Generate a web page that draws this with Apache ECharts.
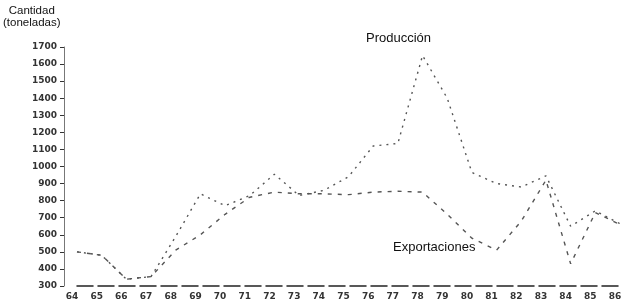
<!DOCTYPE html>
<html>
<head>
<meta charset="utf-8">
<script src="https://cdn.jsdelivr.net/npm/echarts@6/dist/echarts.min.js"></script>
<style>
html,body{margin:0;padding:0;background:#fff;}
#chart{width:627px;height:304px;}
</style>
</head>
<body>
<div id="chart"></div>
<script>
var years = ['64','65','66','67','68','69','70','71','72','73','74','75','76','77','78','79','80','81','82','83','84','85','86'];
var produccion = [500,480,340,355,590,840,770,830,955,830,860,940,1120,1135,1650,1400,965,900,880,945,650,740,665];
var exportaciones = [500,480,340,355,510,600,720,820,850,840,840,835,850,855,850,720,580,510,680,920,430,730,660];
var yTicks = {min:300, max:1700, step:100};

var chart = echarts.init(document.getElementById('chart'));
chart.setOption({
  animation:false,
  backgroundColor:'#fff',
  grid:{left:77, right:7, top:47, bottom:18},
  xAxis:{
    type:'category', data:years, boundaryGap:false,
    axisLine:{lineStyle:{color:'#222', width:1.5, type:[16,5]}},
    axisTick:{show:false},
    axisLabel:{color:'#333', fontSize:9, fontWeight:'bold', fontFamily:'DejaVu Sans', margin:6, padding:[0,10,0,0]},
    splitLine:{show:false}
  },
  yAxis:{
    type:'value', min:yTicks.min, max:yTicks.max, interval:yTicks.step,
    offset:13,
    axisLine:{show:true, lineStyle:{color:'#777', width:1}},
    axisTick:{show:true, length:4, lineStyle:{color:'#333'}},
    axisLabel:{color:'#333', fontSize:9, fontWeight:'bold', fontFamily:'DejaVu Sans', margin:7,
      formatter:function(v){return String(v);}},
    splitLine:{show:false}
  },
  series:[
    {name:'Producción', type:'line', data:produccion, symbol:'none',
     lineStyle:{color:'#555', width:1.4, type:[2,5]}},
    {name:'Exportaciones', type:'line', data:exportaciones, symbol:'none',
     lineStyle:{color:'#555', width:1.4, type:[4,6]}}
  ],
  graphic:[
    {type:'text', left:3, top:5, style:{text:'Cantidad\n(toneladas)', fill:'#111', font:'11.5px "Liberation Sans", Arial', textAlign:'center', lineHeight:12}},
    {type:'text', left:366, top:32, style:{text:'Producción', fill:'#111', font:'13px "Liberation Sans", Arial'}},
    {type:'text', left:393, top:241, style:{text:'Exportaciones', fill:'#111', font:'13px "Liberation Sans", Arial'}}
  ]
});
</script>
</body>
</html>
